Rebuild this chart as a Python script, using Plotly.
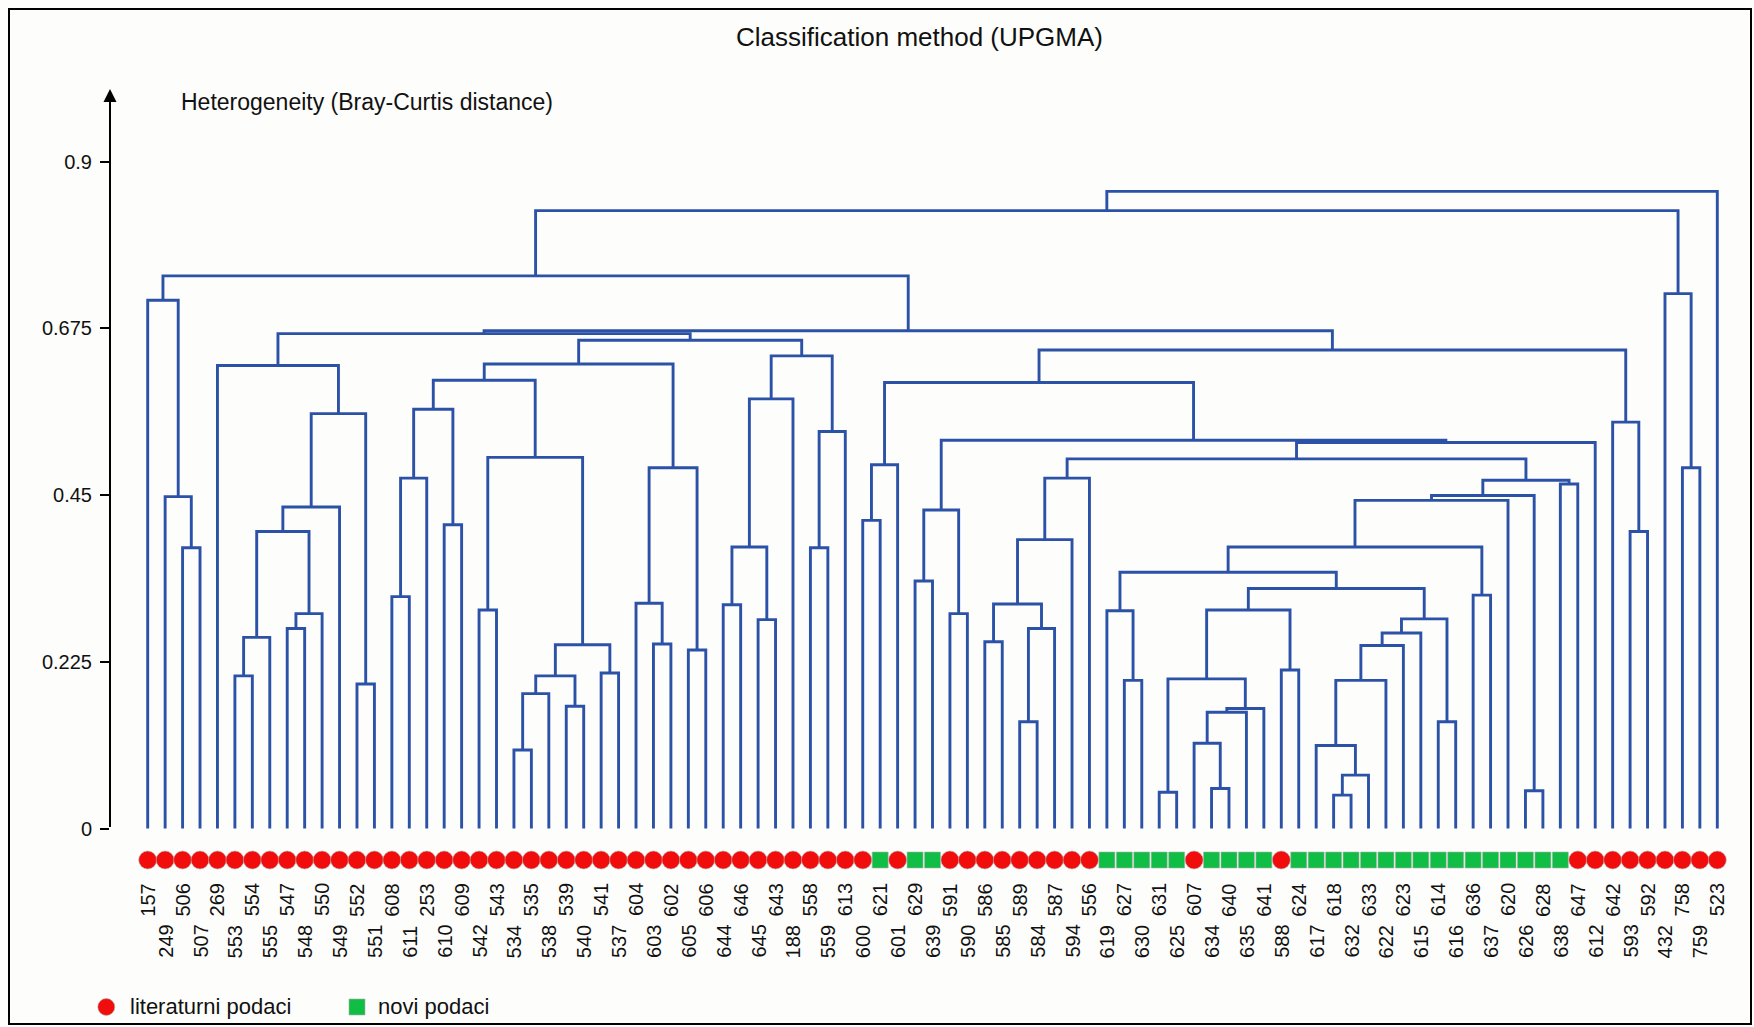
import plotly.graph_objects as go

# ---------------- data ----------------
leaf_labels = ["157", "249", "506", "507", "269", "553", "554", "555", "547", "548",
               "550", "549", "552", "551", "608", "611", "253", "610", "609", "542",
               "543", "534", "535", "538", "539", "540", "541", "537", "604", "603",
               "602", "605", "606", "644", "646", "645", "643", "188", "558", "559",
               "613", "600", "621", "601", "629", "639", "591", "590", "586", "585",
               "589", "584", "587", "594", "556", "619", "627", "630", "631", "625",
               "607", "634", "640", "635", "641", "588", "624", "617", "618", "632",
               "633", "622", "623", "615", "614", "616", "636", "637", "620", "626",
               "628", "638", "647", "612", "642", "593", "592", "432", "758", "759",
               "523"]

# L = literaturni podaci, N = novi podaci (one letter per leaf, 10 per chunk)
leaf_group = list("".join([
    "LLLLLLLLLL", "LLLLLLLLLL", "LLLLLLLLLL", "LLLLLLLLLL", "LLNLNNLLLL",
    "LLLLLNNNNN", "LNNNNLNNNN", "NNNNNNNNNN", "NNLLLLLLLL", "L"]))
assert len(leaf_group) == len(leaf_labels)

# UPGMA merges: node n<k> joins merge_a[k-1] and merge_b[k-1] at merge_h[k-1]
merge_a = ["506", "249", "157", "553", "n4", "547", "n6", "n5", "n8", "552",
           "n9", "269", "608", "n13", "610", "n14", "542", "534", "n18", "539",
           "n19", "541", "n21", "n17", "n16", "603", "604", "605", "n27", "n25",
           "644", "645", "n31", "n33", "558", "n35", "n34", "n30", "n12", "600",
           "n40", "629", "591", "n42", "586", "589", "n46", "n45", "n48", "n49",
           "627", "619", "631", "634", "607", "n55", "n56", "n53", "588", "n58",
           "618", "n61", "617", "n63", "n64", "n65", "614", "n66", "n60", "n52",
           "636", "n70", "n72", "626", "n73", "638", "n75", "n50", "n78", "n44",
           "n41", "593", "642", "n81", "n39", "n3", "758", "432", "n86", "n89"]
merge_b = ["507", "n1", "n2", "554", "555", "548", "550", "n7", "549", "551",
           "n10", "n11", "611", "253", "609", "n15", "543", "535", "538", "540",
           "n20", "537", "n22", "n23", "n24", "602", "n26", "606", "n28", "n29",
           "646", "643", "n32", "188", "559", "613", "n36", "n37", "n38", "621",
           "601", "639", "590", "n43", "585", "584", "587", "n47", "594", "556",
           "630", "n51", "625", "640", "n54", "635", "641", "n57", "624", "n59",
           "632", "633", "n62", "622", "623", "615", "616", "n67", "n68", "n69",
           "637", "n71", "620", "628", "n74", "647", "n76", "n77", "612", "n79",
           "n80", "592", "n82", "n83", "n84", "n85", "759", "n87", "n88", "523"]
merge_h = [0.379, 0.448, 0.713, 0.206, 0.258, 0.270, 0.290, 0.401, 0.434, 0.195,
           0.560, 0.625, 0.313, 0.473, 0.410, 0.566, 0.295, 0.106, 0.182, 0.165,
           0.206, 0.210, 0.248, 0.501, 0.605, 0.249, 0.304, 0.241, 0.487, 0.627,
           0.302, 0.282, 0.380, 0.580, 0.379, 0.536, 0.638, 0.659, 0.668, 0.416,
           0.491, 0.334, 0.290, 0.430, 0.252, 0.144, 0.270, 0.303, 0.390, 0.473,
           0.200, 0.294, 0.049, 0.054, 0.115, 0.157, 0.162, 0.202, 0.214, 0.295,
           0.045, 0.072, 0.112, 0.200, 0.247, 0.264, 0.144, 0.283, 0.324, 0.346,
           0.315, 0.380, 0.443, 0.051, 0.4495, 0.465, 0.470, 0.499, 0.521, 0.524,
           0.602, 0.401, 0.5485, 0.646, 0.672, 0.746, 0.487, 0.722, 0.834, 0.860]

y_tick_vals = [0, 0.225, 0.45, 0.675, 0.9]
y_tick_text = ["0", "0.225", "0.45", "0.675", "0.9"]

title_text = "Classification method (UPGMA)"
y_title_text = "Heterogeneity (Bray-Curtis distance)"
group_names = {"L": "literaturni podaci", "N": "novi podaci"}

# ---------------- geometry / style ----------------
W, H = 1754, 1027
ML, MR, MT, MB = 110, 24, 80, 37
PW, PH = W - ML - MR, H - MT - MB
X0_PX, DX_PX = 147.7, 17.44          # first leaf pixel, leaf spacing
Y0_PX, DY_PX = 828.5, 740.8          # zero pixel, pixels per unit
xmin = -(X0_PX - ML) / DX_PX
xmax = xmin + PW / DX_PX
ymax = (Y0_PX - MT) / DY_PX
ymin = (Y0_PX - (H - MB)) / DY_PX


def px_to_y(py):
    return (Y0_PX - py) / DY_PX


def px_to_x(px):
    return xmin + (px - ML) / DX_PX


def px_to_paper_x(px):
    return (px - ML) / PW


def px_to_paper_y(py):
    return ((H - MB) - py) / PH


FONT = "Liberation Sans, Arial, sans-serif"
TXT = "#111111"
LINE_COLOR = "#2c52a8"
RED = "#f20d0d"
GREEN = "#10bd45"

# ---------------- build dendrogram ----------------
pos = {lab: float(i) for i, lab in enumerate(leaf_labels)}
hgt = {lab: 0.0 for lab in leaf_labels}
xs, ys = [], []
for k, (a, b, h) in enumerate(zip(merge_a, merge_b, merge_h), start=1):
    xa, xb = pos[a], pos[b]
    xs += [xa, xa, xb, xb, None]
    ys += [hgt[a], h, h, hgt[b], None]
    pos["n%d" % k] = (xa + xb) / 2
    hgt["n%d" % k] = h

fig = go.Figure()
fig.add_trace(go.Scatter(x=xs, y=ys, mode="lines",
                         line=dict(color=LINE_COLOR, width=2.9),
                         hoverinfo="skip", showlegend=False))

marker_y = px_to_y(860)
for g, sym, col, size in [("L", "circle", RED, 18), ("N", "square", GREEN, 16)]:
    idx = [i for i, gg in enumerate(leaf_group) if gg == g]
    fig.add_trace(go.Scatter(
        x=idx, y=[marker_y] * len(idx), mode="markers", name=group_names[g],
        marker=dict(symbol=sym, color=col, size=size,
                    line=dict(color="#b0b0b0", width=0.6)),
        cliponaxis=False, showlegend=False))

annotations = []
for i, lab in enumerate(leaf_labels):
    yc = px_to_y(900) if i % 2 == 0 else px_to_y(941.5)
    annotations.append(dict(x=i, y=yc, xref="x", yref="y", text=lab,
                            textangle=-90, showarrow=False,
                            xanchor="center", yanchor="middle",
                            font=dict(size=20, family=FONT, color=TXT)))

# y axis line with arrow
annotations.append(dict(x=xmin, y=px_to_y(89), ax=xmin, ay=0,
                        xref="x", yref="y", axref="x", ayref="y",
                        text="", showarrow=True, arrowhead=2, arrowsize=1.3,
                        arrowwidth=2, arrowcolor="#000000"))
# y axis title
annotations.append(dict(x=px_to_x(179), y=px_to_y(102), xref="x", yref="y",
                        text=y_title_text, showarrow=False,
                        xanchor="left", yanchor="middle",
                        font=dict(size=23, family=FONT, color=TXT)))

# legend (drawn manually)
LEG_Y = 1007
annotations.append(dict(x=px_to_paper_x(128), y=px_to_paper_y(LEG_Y),
                        xref="paper", yref="paper", text=group_names["L"],
                        showarrow=False, xanchor="left", yanchor="middle",
                        font=dict(size=22, family=FONT, color=TXT)))
annotations.append(dict(x=px_to_paper_x(376), y=px_to_paper_y(LEG_Y),
                        xref="paper", yref="paper", text=group_names["N"],
                        showarrow=False, xanchor="left", yanchor="middle",
                        font=dict(size=22, family=FONT, color=TXT)))

shapes = [
    dict(type="rect", xref="paper", yref="paper",
         x0=px_to_paper_x(9), x1=px_to_paper_x(1751),
         y0=px_to_paper_y(1024), y1=px_to_paper_y(9),
         line=dict(color="#000000", width=2)),
    dict(type="circle", xref="paper", yref="paper",
         x0=px_to_paper_x(106.3 - 8.5), x1=px_to_paper_x(106.3 + 8.5),
         y0=px_to_paper_y(LEG_Y + 8.5), y1=px_to_paper_y(LEG_Y - 8.5),
         fillcolor=RED, line=dict(color="#b0b0b0", width=0.6)),
    dict(type="rect", xref="paper", yref="paper",
         x0=px_to_paper_x(357 - 8), x1=px_to_paper_x(357 + 8),
         y0=px_to_paper_y(LEG_Y + 8), y1=px_to_paper_y(LEG_Y - 8),
         fillcolor=GREEN, line=dict(color="#b0b0b0", width=0.6)),
]

fig.update_layout(
    width=W, height=H,
    margin=dict(l=ML, r=MR, t=MT, b=MB, autoexpand=False),
    paper_bgcolor="#fdfdfb", plot_bgcolor="#fdfdfb",
    showlegend=False,
    title=dict(text=title_text, x=919.5 / W, xref="container", xanchor="center",
               y=1 - 37 / H, yref="container", yanchor="middle",
               font=dict(size=26, family=FONT, color=TXT)),
    xaxis=dict(range=[xmin, xmax], showgrid=False, zeroline=False,
               showline=False, showticklabels=False, ticks=""),
    yaxis=dict(range=[ymin, ymax], showgrid=False, zeroline=False,
               showline=False, tickvals=y_tick_vals, ticktext=y_tick_text,
               ticks="outside", ticklen=9, tickwidth=2, tickcolor="#000000",
               ticklabelstandoff=4,
               tickfont=dict(size=20, family=FONT, color=TXT)),
    annotations=annotations,
    shapes=shapes,
)

fig.write_html("out.html", config={"displayModeBar": False},
               post_script="document.body.style.margin='0px';")
